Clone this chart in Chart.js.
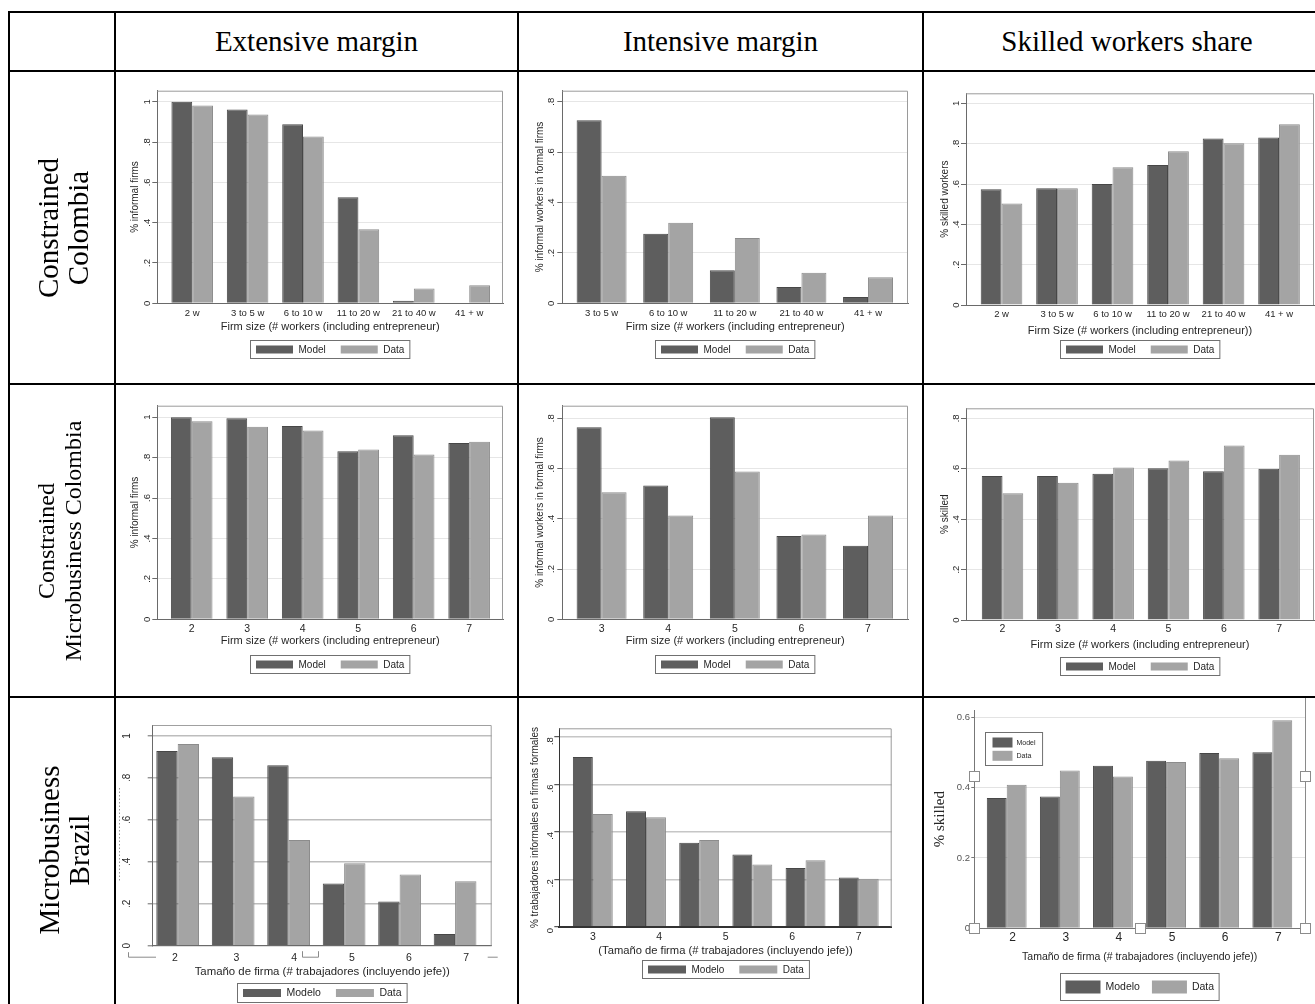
<!DOCTYPE html>
<html>
<head>
<meta charset="utf-8">
<title>Model vs data by firm size</title>
<script src="https://cdn.jsdelivr.net/npm/chart.js@4.4.1/dist/chart.umd.min.js"></script>
<style>
  html, body { margin: 0; padding: 0; background: #fff; }
  #sheet { position: relative; width: 1315px; height: 1004px; overflow: hidden; background: #fff; }
  .rule { position: absolute; background: #000; z-index: 3; }
  .head { position: absolute; display: flex; align-items: center; justify-content: center; text-align: center;
          font-family: 'Liberation Serif', 'Times New Roman', serif; color: #000; white-space: nowrap; }
  .side { transform: rotate(-90deg); }
  canvas { position: absolute; filter: blur(0.45px); }
</style>
</head>
<body>
<div id="sheet">
  <canvas id="p1"></canvas><canvas id="p2"></canvas><canvas id="p3"></canvas>
  <canvas id="p4"></canvas><canvas id="p5"></canvas><canvas id="p6"></canvas>
  <canvas id="p7"></canvas><canvas id="p8"></canvas><canvas id="p9"></canvas>

  <div class="rule" style="left:8px;top:11px;width:1330px;height:2px"></div>
  <div class="rule" style="left:8px;top:70px;width:1330px;height:2px"></div>
  <div class="rule" style="left:8px;top:383px;width:1330px;height:2px"></div>
  <div class="rule" style="left:8px;top:696px;width:1330px;height:2px"></div>
  <div class="rule" style="left:8px;top:11px;width:2px;height:1000px"></div>
  <div class="rule" style="left:114px;top:11px;width:2px;height:1000px"></div>
  <div class="rule" style="left:517px;top:11px;width:2px;height:1000px"></div>
  <div class="rule" style="left:922px;top:11px;width:2px;height:1000px"></div>

  <div class="head" style="left:116px;top:13px;width:401px;height:57px;font-size:29px">Extensive margin</div>
  <div class="head" style="left:519px;top:13px;width:403px;height:57px;font-size:29px">Intensive margin</div>
  <div class="head" style="left:924px;top:13px;width:406px;height:57px;font-size:29px">Skilled workers share</div>

  <div class="head side" style="left:-93.5px;top:175.5px;width:311px;height:104px;font-size:29px;line-height:30px">Constrained<br>Colombia</div>
  <div class="head side" style="left:-96.5px;top:488.5px;width:311px;height:104px;font-size:24px;line-height:27px">Constrained<br>Microbusiness Colombia</div>
  <div class="head side" style="left:-89px;top:798px;width:306px;height:104px;font-size:29px;line-height:30px">Microbusiness<br>Brazil</div>
</div>

<script>
// firm size categories
const sizeBins = ['2 w', '3 to 5 w', '6 to 10 w', '11 to 20 w', '21 to 40 w', '41 + w'];
const formalBins = ['3 to 5 w', '6 to 10 w', '11 to 20 w', '21 to 40 w', '41 + w'];
const microSizes = ['2', '3', '4', '5', '6', '7'];
const microFormalSizes = ['3', '4', '5', '6', '7'];

// y axis ticks
const yTicksOne = [0, 0.2, 0.4, 0.6, 0.8, 1];
const yTicksEight = [0, 0.2, 0.4, 0.6, 0.8];
const yTicksSix = [0, 0.2, 0.4, 0.6];

// Constrained Colombia
const colExtModel = [1.0, 0.962, 0.888, 0.526, 0.013, 0];
const colExtData = [0.982, 0.937, 0.828, 0.367, 0.074, 0.089];
const colIntModel = [0.727, 0.276, 0.131, 0.065, 0.025];
const colIntData = [0.506, 0.320, 0.259, 0.121, 0.103];
const colSkillModel = [0.574, 0.579, 0.600, 0.694, 0.826, 0.831];
const colSkillData = [0.504, 0.579, 0.683, 0.762, 0.802, 0.896];

// Constrained microbusiness Colombia
const microExtModel = [1.0, 0.995, 0.957, 0.831, 0.911, 0.873];
const microExtData = [0.980, 0.953, 0.934, 0.840, 0.815, 0.879];
const microIntModel = [0.764, 0.532, 0.804, 0.331, 0.293];
const microIntData = [0.506, 0.413, 0.588, 0.337, 0.413];
const microSkillModel = [0.571, 0.571, 0.580, 0.602, 0.590, 0.600];
const microSkillData = [0.503, 0.545, 0.605, 0.633, 0.692, 0.656];

// Microbusiness Brazil
const brExtModel = [0.928, 0.898, 0.860, 0.297, 0.211, 0.056];
const brExtData = [0.962, 0.711, 0.504, 0.393, 0.339, 0.307];
const brIntModel = [0.716, 0.487, 0.354, 0.305, 0.248, 0.208];
const brIntData = [0.475, 0.462, 0.366, 0.262, 0.280, 0.202];
const brSkillModel = [0.370, 0.374, 0.462, 0.476, 0.498, 0.500];
const brSkillData = [0.408, 0.448, 0.431, 0.472, 0.483, 0.591];

const SANS = "'Liberation Sans', Arial, sans-serif";
const SERIF = "'Liberation Serif', 'Times New Roman', serif";
const MODEL_FILL = '#5e5e5e', MODEL_EDGE = '#474747';
const DATA_FILL = '#a4a4a4', DATA_EDGE = '#8c8c8c';

Chart.defaults.font.family = SANS;

const measure = document.createElement('canvas').getContext('2d');
function widthOf(text, size, family) {
    measure.font = size + 'px ' + family;
    return measure.measureText(text).width;
}

// Stata style: 0 .2 .4 ... 1
function stataTick(v) {
    if (v === 0) return '0';
    if (v === 1) return '1';
    return v.toFixed(1).replace(/^0/, '');
}
function decimalTick(v) {
    return v === 0 ? '0' : v.toFixed(1);
}

// boxed legend below the plot (or floating inside it)
function keyPlugin(p) {
    const [cx, cy] = p.cell;
    return {
        id: 'stataKey',
        afterDraw(chart) {
            const ctx = chart.ctx;
            const sets = chart.data.datasets;
            p.keys.forEach(k => {
                ctx.save();
                ctx.font = k.size + 'px ' + k.family;
                ctx.textBaseline = 'middle';
                ctx.textAlign = 'left';
                const widths = k.names.map(n => ctx.measureText(n).width);
                let boxW, left;
                const top = Math.round(k.top - cy) + 0.5;
                if (k.vertical) {
                    boxW = k.padX * 2 + k.swatchW + k.gap + Math.max(...widths);
                    left = Math.round(k.left - cx) + 0.5;
                } else {
                    const content = widths.reduce((s, w) => s + k.swatchW + k.gap + w, 0) + k.itemGap * (widths.length - 1);
                    boxW = content + k.padX * 2;
                    left = Math.round((chart.chartArea.left + chart.chartArea.right) / 2 - boxW / 2) + 0.5;
                }
                ctx.fillStyle = '#fff';
                ctx.fillRect(left, top, boxW, k.height);
                ctx.strokeStyle = '#707070';
                ctx.lineWidth = 1;
                ctx.strokeRect(left, top, boxW, k.height);
                let x = left + k.padX;
                sets.forEach((ds, i) => {
                    let y;
                    if (k.vertical) {
                        x = left + k.padX;
                        y = top + k.padY + i * k.rowStep;
                    } else {
                        y = top + (k.height - k.swatchH) / 2;
                    }
                    ctx.fillStyle = ds.backgroundColor;
                    ctx.fillRect(x, y, k.swatchW, k.swatchH);
                    ctx.fillStyle = '#262626';
                    ctx.fillText(k.names[i], x + k.swatchW + k.gap, y + k.swatchH / 2 + 0.5);
                    x += k.swatchW + k.gap + widths[i] + k.itemGap;
                });
                ctx.restore();
            });
        }
    };
}

function framePlugin(p) {
    return {
        id: 'plotFrame',
        beforeDatasetsDraw(chart) {
            if (!p.frameColor) return;
            const {ctx, chartArea: a} = chart;
            ctx.save();
            ctx.strokeStyle = p.frameColor;
            ctx.lineWidth = 1;
            ctx.beginPath();
            ctx.moveTo(a.left, a.top + 0.5);
            ctx.lineTo(a.right - 0.5, a.top + 0.5);
            ctx.lineTo(a.right - 0.5, a.bottom);
            ctx.stroke();
            ctx.restore();
        }
    };
}

// leftovers of the pasted Brazil figure: dotted mark and axis bracket
const brazilExtDecor = {
    id: 'brazilExtDecor',
    afterDraw(chart) {
        const {ctx, chartArea: a} = chart;
        ctx.save();
        ctx.strokeStyle = '#9a9a9a';
        ctx.lineWidth = 1;
        ctx.setLineDash([1.5, 2]);
        ctx.beginPath();
        ctx.moveTo(3.5, 90);
        ctx.lineTo(3.5, 184);
        ctx.stroke();
        ctx.setLineDash([]);
        const y = a.bottom + 11.5;
        ctx.strokeStyle = '#8a8a8a';
        ctx.beginPath();
        ctx.moveTo(12.5, y - 5); ctx.lineTo(12.5, y); ctx.lineTo(40, y);
        ctx.moveTo(186.5, y - 6); ctx.lineTo(186.5, y); ctx.lineTo(202.5, y); ctx.lineTo(202.5, y - 6);
        ctx.moveTo(a.right - 4, y); ctx.lineTo(a.right + 6, y);
        ctx.stroke();
        ctx.restore();
    }
};

// frame line and selection handles around the Brazil skill figure
const brazilSkillDecor = {
    id: 'brazilSkillDecor',
    afterDraw(chart) {
        const {ctx, chartArea: a} = chart;
        ctx.save();
        ctx.strokeStyle = '#8a8a8a';
        ctx.lineWidth = 1;
        ctx.beginPath();
        ctx.moveTo(a.right + 0.5, 0);
        ctx.lineTo(a.right + 0.5, a.bottom);
        ctx.stroke();
        const midY = a.bottom - 152, midX = (a.left + a.right) / 2;
        [[a.left, midY], [a.left, a.bottom], [midX, a.bottom], [a.right, a.bottom], [a.right, midY]].forEach(([x, y]) => {
            ctx.fillStyle = '#fff';
            ctx.fillRect(Math.round(x) - 5, Math.round(y) - 5, 10, 10);
            ctx.strokeStyle = '#8c8c8c';
            ctx.strokeRect(Math.round(x) - 4.5, Math.round(y) - 4.5, 10, 10);
        });
        ctx.restore();
    }
};

const base = {
    tickSize: 9.5, tickFamily: SANS, yTickSize: 9.5, yRotate: true, tickLen: 5,
    titleSize: 11, titleFamily: SANS, yTitleSize: 10, yTitleFamily: SANS,
    textColor: '#262626', yTickColor: '#262626', axisColor: '#6a6a6a', xBorderWidth: 1,
    gridColor: '#e6e6e6', gridWidth: 1, frameColor: '#9a9a9a',
    pair: 0.75, yFormat: stataTick, labelOffset: 0, xLabelOffset: 0, tickPos: null, extra: null
};
const keyBase = { height: 18, swatchW: 37, swatchH: 8, size: 10, family: SANS, gap: 5.5, itemGap: 15, padX: 5.5 };
const xTitleEn = 'Firm size (# workers (including entrepreneur)';
const xTitleEs = 'Tamaño de firma (# trabajadores (incluyendo jefe))';

const panels = [
    { id: 'p1', cell: [116, 72, 401, 311], plot: [157.3, 90.7, 503, 303.3],
      labels: sizeBins, model: colExtModel, data: colExtData, yMax: 1.055, yTicks: yTicksOne, pad: [0.63, 0.61],
      yTitle: '% informal firms', yTitleX: 135, yLabelX: 147, xLabelY: 313.3, xTitleY: 326.7, xTitle: xTitleEn,
      keys: [{ top: 340, names: ['Model', 'Data'] }] },
    { id: 'p2', cell: [519, 72, 403, 311], plot: [562.3, 90.7, 908, 303.3],
      labels: formalBins, model: colIntModel, data: colIntData, yMax: 0.844, yTicks: yTicksEight, pad: [0.59, 0.6],
      yTitle: '% informal workers in formal firms', yTitleX: 540, yLabelX: 551.7, xLabelY: 313.3, xTitleY: 326.7, xTitle: xTitleEn,
      keys: [{ top: 340, names: ['Model', 'Data'] }] },
    { id: 'p3', cell: [924, 72, 391, 311], plot: [966, 93.3, 1314, 305],
      labels: sizeBins, model: colSkillModel, data: colSkillData, yMax: 1.05, yTicks: yTicksOne, pad: [0.64, 0.63],
      yTitle: '% skilled workers', yTitleX: 945, yLabelX: 956.7, xLabelY: 314.3, xTitleY: 331,
      xTitle: 'Firm Size (# workers (including entrepreneur))',
      keys: [{ top: 340, names: ['Model', 'Data'] }] },
    { id: 'p4', cell: [116, 385, 401, 311], plot: [157.3, 405.7, 503, 619.3], tickSize: 10.5,
      labels: microSizes, model: microExtModel, data: microExtData, yMax: 1.057, yTicks: yTicksOne, pad: [0.62, 0.61],
      yTitle: '% informal firms', yTitleX: 135, yLabelX: 147, xLabelY: 629.3, xTitleY: 641, xTitle: xTitleEn,
      keys: [{ top: 655, names: ['Model', 'Data'] }] },
    { id: 'p5', cell: [519, 385, 403, 311], plot: [562.3, 405.7, 908, 619.3], tickSize: 10.5,
      labels: microFormalSizes, model: microIntModel, data: microIntData, yMax: 0.85, yTicks: yTicksEight, pad: [0.59, 0.6],
      yTitle: '% informal workers in formal firms', yTitleX: 540, yLabelX: 551.7, xLabelY: 629.3, xTitleY: 641, xTitle: xTitleEn,
      keys: [{ top: 655, names: ['Model', 'Data'] }] },
    { id: 'p6', cell: [924, 385, 391, 311], plot: [966, 408.3, 1314, 620], tickSize: 10.5,
      labels: microSizes, model: microSkillModel, data: microSkillData, yMax: 0.84, yTicks: yTicksEight, pad: [0.66, 0.63],
      yTitle: '% skilled', yTitleX: 945, yLabelX: 956.7, xLabelY: 629.3, xTitleY: 645, xTitle: xTitleEn,
      keys: [{ top: 656.7, names: ['Model', 'Data'] }] },
    { id: 'p7', cell: [116, 698, 401, 306], plot: [152.7, 725, 491.7, 945.7], tickSize: 10.5, yTickSize: 10, titleSize: 11.4,
      labels: microSizes, tickPos: [-0.05, 1.06, 2.1, 3.14, 4.17, 5.2], model: brExtModel, data: brExtData,
      yMax: 1.052, yTicks: yTicksOne, pad: [0.45, 0.66], pair: 0.77,
      yTitle: '', yLabelX: 127.7, xLabelY: 958, xTitleY: 972, xTitle: xTitleEs,
      gridColor: '#bdbdbd', gridWidth: 1.6, frameColor: '#a0a0a0', extra: brazilExtDecor,
      keys: [{ top: 983, height: 19, size: 10.5, swatchW: 38, names: ['Modelo', 'Data'] }] },
    { id: 'p8', cell: [519, 698, 403, 306], plot: [559.3, 728.3, 891.7, 926.7], tickSize: 10.5, titleSize: 11.2,
      labels: microFormalSizes, tickPos: [0, 1.25, 2.5, 3.75, 5], model: brIntModel, data: brIntData,
      yMax: 0.837, yTicks: yTicksEight, pad: [0.63, 0.62], labelOffset: 4,
      yTitle: '% trabajadores informales en firmas formales', yTitleX: 535, yLabelX: 550.7,
      xLabelY: 936.7, xTitleY: 950.7, xTitle: '(' + xTitleEs,
      gridColor: '#c6c6c6', gridWidth: 1.4, axisColor: '#333', xBorderWidth: 2,
      keys: [{ top: 960, height: 18, size: 10, swatchW: 38, names: ['Modelo', 'Data'] }] },
    { id: 'p9', cell: [924, 698, 391, 306], plot: [974.3, 710, 1305, 928.3],
      labels: microSizes, model: brSkillModel, data: brSkillData, yMax: 0.62, yTicks: yTicksSix, pad: [0.61, 0.615],
      yFormat: decimalTick, yRotate: false, yTickSize: 9.5, yTickColor: '#555', tickLen: 3, yLabelX: 970,
      yTitle: '% skilled', yTitleFamily: SERIF, yTitleSize: 15, yTitleX: 940,
      tickSize: 12, titleSize: 10.5, xLabelY: 938, xTitleY: 957, xLabelOffset: 6,
      xTitle: xTitleEs, gridColor: '#e3e3e3', axisColor: '#777', frameColor: null, extra: brazilSkillDecor,
      keys: [
          { top: 973, height: 27, swatchW: 35, swatchH: 13, size: 10.5, gap: 5, itemGap: 12, padX: 5, names: ['Modelo', 'Data'] },
          { vertical: true, left: 985, top: 732, height: 33, swatchW: 20, swatchH: 10, size: 7, gap: 4, padX: 7, padY: 5, rowStep: 13.3, names: ['Model', 'Data'] }
      ] }
];

function buildPanel(spec) {
    const p = Object.assign({}, base, spec);
    p.keys = p.keys.map(k => Object.assign({}, keyBase, k));
    const [cx, cy, cw, ch] = p.cell;
    const canvas = document.getElementById(p.id);
    canvas.width = cw;
    canvas.height = ch;
    canvas.style.left = cx + 'px';
    canvas.style.top = cy + 'px';

    const L = p.plot[0] - cx, T = p.plot[1] - cy, R = p.plot[2] - cx, B = p.plot[3] - cy;

    // y axis box: title on its left edge, tick labels next to the tick marks
    const axisLeft = p.yTitle ? p.yTitleX - cx - 0.6 * p.yTitleSize : p.yLabelX - cx - 8;
    const yAxisW = L - axisLeft;
    let yPad;
    if (p.yRotate) {
        const widest = Math.max(...p.yTicks.map(v => widthOf(p.yFormat(v), p.yTickSize, SANS)));
        yPad = L - (p.yLabelX - cx) - p.tickLen - widest / 2;
    } else {
        yPad = L - (p.yLabelX - cx) - p.tickLen;
    }

    // x axis box: tick labels, then the title at its bottom edge
    const axisBottom = p.xTitleY - cy + 0.6 * p.titleSize;
    const xAxisH = axisBottom - B;
    const xPad = (p.xLabelY - cy) - B - 0.6 * p.tickSize;
    const tickPos = p.tickPos || p.labels.map((_, i) => i);
    const n = p.model.length;

    return new Chart(canvas, {
        type: 'bar',
        data: {
            datasets: [
                { label: p.keys[0].names[0], data: p.model.map((v, i) => ({ x: i, y: v })),
                  backgroundColor: MODEL_FILL, borderColor: MODEL_EDGE, borderWidth: 1 },
                { label: p.keys[0].names[1], data: p.data.map((v, i) => ({ x: i, y: v })),
                  backgroundColor: DATA_FILL, borderColor: DATA_EDGE, borderWidth: 1 }
            ]
        },
        options: {
            responsive: false,
            animation: false,
            events: [],
            devicePixelRatio: 1,
            layout: { padding: { left: axisLeft, top: T, right: cw - R, bottom: ch - axisBottom } },
            datasets: { bar: { barPercentage: 1, categoryPercentage: p.pair } },
            plugins: { legend: { display: false }, tooltip: { enabled: false } },
            scales: {
                x: {
                    type: 'linear',
                    offset: false,
                    min: -p.pad[0],
                    max: n - 1 + p.pad[1],
                    afterBuildTicks: s => { s.ticks = tickPos.map(v => ({ value: v })); },
                    afterFit: s => { s.height = xAxisH; },
                    grid: { display: false, drawTicks: false },
                    border: { display: true, color: p.axisColor, width: p.xBorderWidth },
                    ticks: {
                        autoSkip: false, maxRotation: 0, minRotation: 0, padding: xPad, labelOffset: p.xLabelOffset,
                        color: p.textColor, font: { family: p.tickFamily, size: p.tickSize },
                        callback: (value, index) => p.labels[index]
                    },
                    title: { display: true, text: p.xTitle, padding: 0, color: p.textColor,
                             font: { family: p.titleFamily, size: p.titleSize } }
                },
                y: {
                    min: 0,
                    max: p.yMax,
                    afterBuildTicks: s => { s.ticks = p.yTicks.map(v => ({ value: v })); },
                    afterFit: s => { s.width = yAxisW; },
                    grid: { color: p.gridColor, lineWidth: p.gridWidth, tickColor: p.axisColor, tickLength: p.tickLen, tickWidth: 1 },
                    border: { color: p.axisColor, width: 1 },
                    ticks: {
                        minRotation: p.yRotate ? 90 : 0, maxRotation: p.yRotate ? 90 : 0,
                        crossAlign: p.yRotate ? 'center' : 'near',
                        padding: yPad, labelOffset: p.labelOffset, color: p.yTickColor,
                        font: { family: SANS, size: p.yTickSize },
                        callback: v => p.yFormat(v)
                    },
                    title: { display: !!p.yTitle, text: p.yTitle, padding: 0, color: p.textColor,
                             font: { family: p.yTitleFamily, size: p.yTitleSize } }
                }
            }
        },
        plugins: [framePlugin(p), keyPlugin(p)].concat(p.extra ? [p.extra] : [])
    });
}

panels.forEach(buildPanel);
</script>
</body>
</html>
